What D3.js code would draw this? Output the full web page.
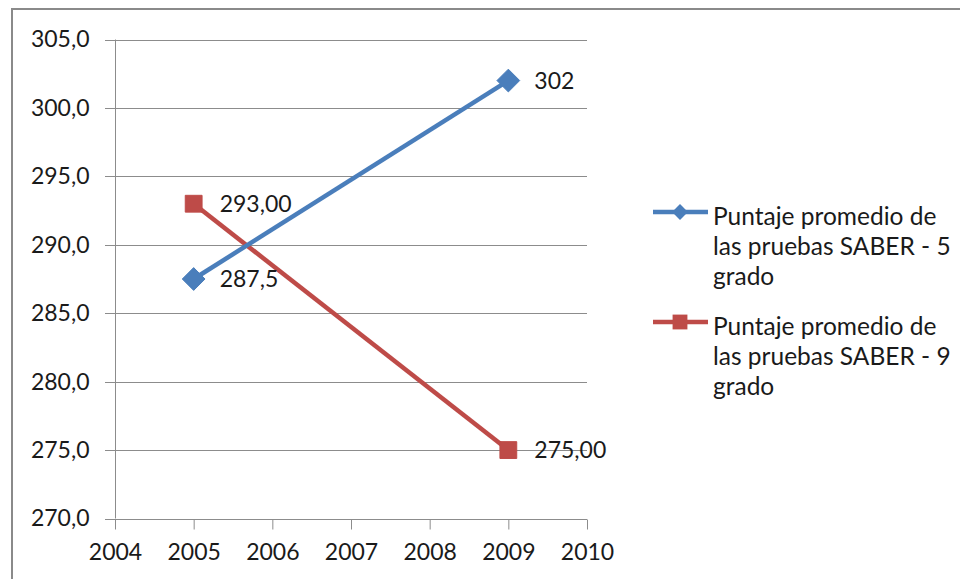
<!DOCTYPE html>
<html>
<head>
<meta charset="utf-8">
<script src="https://cdn.jsdelivr.net/npm/d3@7"></script>
<style>
  html, body { margin: 0; padding: 0; background: #fff; }
  svg { display: block; font-family: Lato, "Open Sans", sans-serif; }
</style>
</head>
<body>
<svg id="chart" width="960" height="579"></svg>
<script>
// Average SABER test scores by year
const years = [2005, 2009];
const grade5 = [287.5, 302];
const grade9 = [293, 275];
const grade5Labels = ["287,5", "302"];
const grade9Labels = ["293,00", "275,00"];
const seriesNames = [
  ["Puntaje promedio de", "las pruebas SABER - 5", "grado"],
  ["Puntaje promedio de", "las pruebas SABER - 9", "grado"]
];
const yTicks = [270, 275, 280, 285, 290, 295, 300, 305];
const xTicks = [2004, 2005, 2006, 2007, 2008, 2009, 2010];

const blue = "#4a7ebb", red = "#be4b48", gridCol = "#8c8c8c", textCol = "#1a1a1a";

const svg = d3.select("#chart");

// outer frame of the chart area
svg.append("rect")
  .attr("x", 12).attr("y", 9).attr("width", 1000).attr("height", 700)
  .attr("fill", "none").attr("stroke", "#8a8a8a").attr("stroke-width", 2);

const x = d3.scaleLinear().domain([2004, 2010]).range([115, 587]);
const y = d3.scaleLinear().domain([270, 305]).range([518.5, 39.5]);

// horizontal gridlines
svg.append("g").selectAll("line").data(yTicks).join("line")
  .attr("x1", 105).attr("x2", 587)
  .attr("y1", d => Math.round(y(d)) + 0.5).attr("y2", d => Math.round(y(d)) + 0.5)
  .attr("stroke", gridCol).attr("stroke-width", 1);

// y axis
const yAxis = svg.append("g").attr("transform", "translate(115.5,0)")
  .call(d3.axisLeft(y).tickValues(yTicks).tickSize(0).tickPadding(26)
    .tickFormat(d => d3.format(".1f")(d).replace(".", ",")));
yAxis.select(".domain").attr("stroke", gridCol).attr("d", `M0,${y(305)}V${y(270)}`);
yAxis.selectAll("text").attr("font-size", 23).attr("fill", textCol)
  .attr("font-family", "Lato, 'Open Sans', sans-serif");

// x axis
const xAxis = svg.append("g").attr("transform", `translate(0,${Math.round(y(270)) + 0.5})`)
  .call(d3.axisBottom(x).tickValues(xTicks).tickSize(10).tickPadding(14).tickFormat(d3.format("d")));
xAxis.select(".domain").attr("stroke", gridCol).attr("d", `M${x(2004)},0H${x(2010)}`);
xAxis.selectAll(".tick line").attr("stroke", gridCol);
xAxis.selectAll("text").attr("font-size", 23).attr("fill", textCol)
  .attr("font-family", "Lato, 'Open Sans', sans-serif");

const line = d3.line().x(d => x(d[0])).y(d => y(d[1]));

function drawSeries(vals, labels, color, shape) {
  const pts = years.map((yr, i) => [yr, vals[i]]);
  svg.append("path").datum(pts).attr("d", line)
    .attr("fill", "none").attr("stroke", color).attr("stroke-width", 4.5);
  const sym = shape === "diamond"
    ? d3.symbol().type(d3.symbolDiamond2).size(330)
    : d3.symbol().type(d3.symbolSquare2).size(360);
  svg.append("g").selectAll("path").data(pts).join("path")
    .attr("d", sym)
    .attr("transform", d => `translate(${x(d[0])},${y(d[1])})`)
    .attr("fill", color).attr("stroke", color).attr("stroke-width", 1);
  svg.append("g").selectAll("text").data(pts).join("text")
    .attr("x", d => x(d[0]) + 26).attr("y", d => y(d[1]))
    .attr("dy", "0.36em")
    .attr("font-size", 23).attr("fill", textCol)
    .text((d, i) => labels[i]);
}

drawSeries(grade9, grade9Labels, red, "square");
drawSeries(grade5, grade5Labels, blue, "diamond");

// legend
const legendY = [212, 322];
const legendColors = [blue, red];
const legendShapes = [
  d3.symbol().type(d3.symbolDiamond2).size(160),
  d3.symbol().type(d3.symbolSquare2).size(280)
];
seriesNames.forEach((lines, i) => {
  const g = svg.append("g");
  g.append("line").attr("x1", 653).attr("x2", 708)
    .attr("y1", legendY[i]).attr("y2", legendY[i])
    .attr("stroke", legendColors[i]).attr("stroke-width", 4.5);
  g.append("path").attr("d", legendShapes[i])
    .attr("transform", `translate(680,${legendY[i]})`)
    .attr("fill", legendColors[i]);
  g.selectAll("text").data(lines).join("text")
    .attr("x", 713).attr("y", (d, j) => legendY[i] + 4 + j * 30)
    .attr("dy", "0.36em")
    .attr("font-size", 24.5).attr("fill", textCol)
    .text(d => d);
});
</script>
</body>
</html>
